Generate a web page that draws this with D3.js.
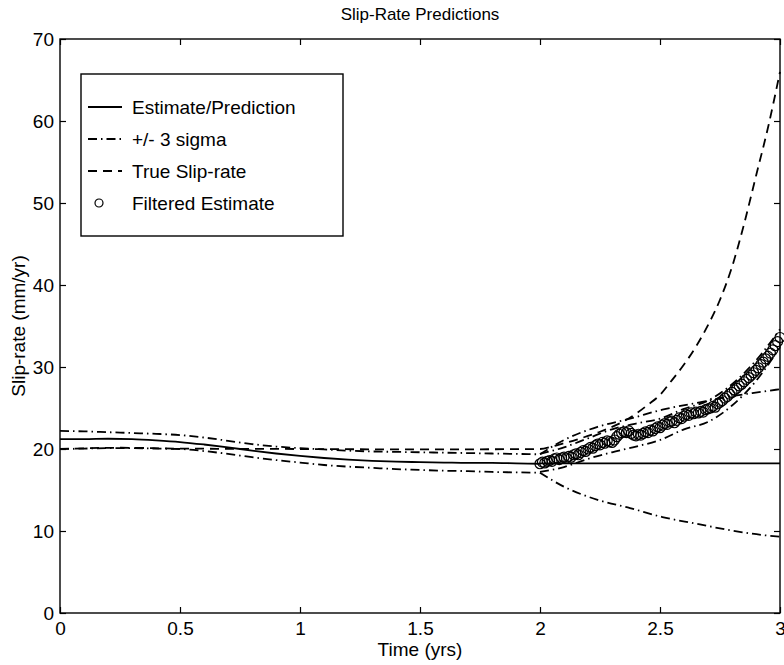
<!DOCTYPE html>
<html lang="en">
<head>
<meta charset="UTF-8">
<title>Slip-Rate Predictions</title>
<script src="https://d3js.org/d3.v7.min.js"></script>
<style>
  body { margin: 0; background: #fff; }
  text { font-family: "Liberation Sans", Arial, Helvetica, sans-serif; fill: #000; }
</style>
</head>
<body>
<svg id="chart" width="784" height="665"></svg>
<script>
// ---- data ----
// before t=2: estimate and its +/- 3 sigma band
const tEst = [0, 0.1, 0.2, 0.3, 0.4, 0.5, 0.6, 0.7, 0.8, 0.9, 1.0, 1.1, 1.2, 1.3, 1.4, 1.5, 1.6, 1.7, 1.8, 1.9, 2.0];
const estimate = [21.2, 21.2, 21.25, 21.2, 21.05, 20.85, 20.55, 20.2, 19.8, 19.45, 19.15, 18.9, 18.7, 18.55, 18.45, 18.4, 18.35, 18.3, 18.3, 18.25, 18.2];
const estUpper = [22.2, 22.15, 22.05, 21.95, 21.85, 21.7, 21.4, 21.0, 20.6, 20.3, 20.1, 19.95, 19.8, 19.7, 19.65, 19.6, 19.55, 19.5, 19.45, 19.4, 19.35];
const estLower = [20.0, 20.05, 20.1, 20.1, 20.05, 20.0, 19.75, 19.4, 19.0, 18.65, 18.35, 18.05, 17.85, 17.7, 17.55, 17.45, 17.35, 17.3, 17.2, 17.15, 17.1];

// after t=2: flat prediction and its widening band
const tPred = [2.0, 2.1, 2.24, 2.375, 2.51, 2.65, 2.79, 2.93, 3.0];
const prediction = [18.25, 18.25, 18.25, 18.25, 18.25, 18.25, 18.25, 18.25, 18.25];
const predUpper = [19.35, 21.1, 22.7, 23.7, 24.8, 25.6, 26.4, 27.0, 27.3];
const predLower = [17.1, 15.4, 13.8, 12.8, 11.7, 10.9, 10.1, 9.5, 9.3];

// true slip-rate
const tTrue = [0, 0.25, 0.5, 1.0, 1.5, 2.0, 2.05, 2.1, 2.15, 2.2, 2.25, 2.3, 2.35, 2.4, 2.45, 2.5, 2.55, 2.6, 2.65, 2.7, 2.75, 2.8, 2.85, 2.9, 2.95, 3.0];
const trueRate = [20.0, 20.15, 20.05, 20.0, 19.95, 20.0, 20.3, 20.7, 21.1, 21.6, 22.1, 22.7, 23.4, 24.3, 25.4, 26.6, 28.4, 30.3, 32.5, 35.1, 38.2, 42.2, 47.4, 53.3, 59.2, 66.0];

// filtered estimate (circles), one every 0.01 yr from 2.00 to 3.00
const filtered = [
  18.2, 18.4, 18.3, 18.5, 18.6, 18.5, 18.8, 18.9, 18.7, 18.9,
  19.0, 18.9, 19.1, 19.0, 19.3, 19.4, 19.3, 19.6, 19.8, 19.7,
  20.0, 20.2, 20.1, 20.4, 20.6, 20.5, 20.8, 20.7, 21.0, 20.9,
  20.8, 21.1, 21.5, 21.8, 22.0, 22.1, 22.0, 22.2, 21.9, 21.7,
  21.6, 21.8, 21.7, 21.9, 22.1, 22.0, 22.3, 22.2, 22.5, 22.7,
  22.6, 22.9, 23.1, 23.0, 23.3, 23.4, 23.2, 23.5, 23.8, 23.7,
  24.0, 24.2, 24.1, 24.4, 24.3, 24.5, 24.4, 24.6, 24.5, 24.8,
  24.9, 25.0, 25.2, 25.1, 25.5, 25.7, 25.9, 26.2, 26.4, 26.7,
  26.9, 27.2, 27.4, 27.7, 27.9, 28.2, 28.5, 28.7, 29.0, 29.3,
  29.6, 29.9, 30.3, 30.6, 31.0, 31.3, 31.7, 32.1, 32.6, 33.1,
  33.6
];
const tFilt = d3.range(filtered.length).map(i => 2 + i / 100);

// +/- 3 sigma band of the filtered estimate
const tBand = [2.0, 2.1, 2.2, 2.3, 2.4, 2.5, 2.6, 2.7, 2.8, 2.9, 3.0];
const filtUpper = [19.4, 20.2, 21.3, 22.4, 23.1, 23.7, 24.9, 25.9, 27.9, 30.8, 34.6];
const filtLower = [17.2, 17.8, 18.8, 19.6, 20.3, 21.1, 22.4, 23.3, 25.3, 28.3, 32.4];

const xTicks = [0, 0.5, 1, 1.5, 2, 2.5, 3];
const yTicks = [0, 10, 20, 30, 40, 50, 60, 70];

const legendItems = [
  { label: 'Estimate/Prediction', type: 'solid' },
  { label: '+/- 3 sigma', type: 'dashdot' },
  { label: 'True Slip-rate', type: 'dashed' },
  { label: 'Filtered Estimate', type: 'circle' }
];

// ---- drawing ----
const svg = d3.select('#chart');
const margin = { top: 39, right: 4, bottom: 52, left: 60 };
const W = 784, H = 665;

const x = d3.scaleLinear().domain([0, 3]).range([margin.left, W - margin.right]);
const y = d3.scaleLinear().domain([0, 70]).range([H - margin.bottom, margin.top]);

const dashes = { solid: null, dashdot: '9,4,1.5,4', dashed: '9,6' };

const line = d3.line().x(d => x(d[0])).y(d => y(d[1])).curve(d3.curveMonotoneX);
const pairs = (ts, vs) => ts.map((t, i) => [t, vs[i]]);

const series = [
  { t: tEst, v: estimate, type: 'solid' },
  { t: tPred, v: prediction, type: 'solid' },
  { t: tEst, v: estUpper, type: 'dashdot' },
  { t: tEst, v: estLower, type: 'dashdot' },
  { t: tPred, v: predUpper, type: 'dashdot' },
  { t: tPred, v: predLower, type: 'dashdot' },
  { t: tBand, v: filtUpper, type: 'dashdot' },
  { t: tBand, v: filtLower, type: 'dashdot' },
  { t: tTrue, v: trueRate, type: 'dashed' }
];

const plot = svg.append('g');

plot.selectAll('path.series')
  .data(series)
  .enter().append('path')
  .attr('class', 'series')
  .attr('fill', 'none')
  .attr('stroke', '#000')
  .attr('stroke-width', 1.8)
  .attr('stroke-dasharray', d => dashes[d.type])
  .attr('d', d => line(pairs(d.t, d.v)));

plot.selectAll('circle.filt')
  .data(pairs(tFilt, filtered))
  .enter().append('circle')
  .attr('class', 'filt')
  .attr('cx', d => x(d[0]))
  .attr('cy', d => y(d[1]))
  .attr('r', 5)
  .attr('fill', 'none')
  .attr('stroke', '#000')
  .attr('stroke-width', 1.2);

// axes box with inward ticks on all four sides
const x0 = x.range()[0], x1 = x.range()[1], y0 = y.range()[0], y1 = y.range()[1];
const tickLen = 6;

svg.append('g')
  .attr('transform', `translate(0,${y0})`)
  .call(d3.axisBottom(x).tickValues(xTicks).tickSize(-tickLen).tickPadding(9).tickFormat(d3.format('')))
  .call(g => g.select('.domain').remove())
  .call(g => g.selectAll('text').style('font-size', '19px'));

svg.append('g')
  .attr('transform', `translate(0,${y1})`)
  .call(d3.axisTop(x).tickValues(xTicks).tickSize(-tickLen).tickFormat(''))
  .call(g => g.select('.domain').remove());

svg.append('g')
  .attr('transform', `translate(${x0},0)`)
  .call(d3.axisLeft(y).tickValues(yTicks).tickSize(-tickLen).tickPadding(6))
  .call(g => g.select('.domain').remove())
  .call(g => g.selectAll('text').style('font-size', '19px'));

svg.append('g')
  .attr('transform', `translate(${x1},0)`)
  .call(d3.axisRight(y).tickValues(yTicks).tickSize(-tickLen).tickFormat(''))
  .call(g => g.select('.domain').remove());

svg.selectAll('.tick line').attr('stroke', '#000').attr('stroke-width', 1.2);

svg.append('rect')
  .attr('x', x0).attr('y', y1)
  .attr('width', x1 - x0).attr('height', y0 - y1)
  .attr('fill', 'none').attr('stroke', '#000').attr('stroke-width', 1.4);

// titles
svg.append('text')
  .attr('x', (x0 + x1) / 2).attr('y', 20)
  .attr('text-anchor', 'middle')
  .style('font-size', '17px')
  .text('Slip-Rate Predictions');

svg.append('text')
  .attr('x', (x0 + x1) / 2).attr('y', 656)
  .attr('text-anchor', 'middle')
  .style('font-size', '19px')
  .text('Time (yrs)');

svg.append('text')
  .attr('transform', `translate(25,${(y0 + y1) / 2}) rotate(-90)`)
  .attr('text-anchor', 'middle')
  .style('font-size', '19px')
  .text('Slip-rate (mm/yr)');

// legend
const legend = svg.append('g').attr('transform', 'translate(81,74)');
legend.append('rect')
  .attr('width', 262).attr('height', 162)
  .attr('fill', '#fff').attr('stroke', '#000').attr('stroke-width', 1.4);

const item = legend.selectAll('g.item')
  .data(legendItems)
  .enter().append('g')
  .attr('class', 'item')
  .attr('transform', (d, i) => `translate(0,${33 + i * 32})`);

item.filter(d => d.type !== 'circle').append('line')
  .attr('x1', 7).attr('x2', 41)
  .attr('stroke', '#000').attr('stroke-width', 1.8)
  .attr('stroke-dasharray', d => dashes[d.type]);

item.filter(d => d.type === 'circle').append('circle')
  .attr('cx', 18).attr('r', 4)
  .attr('fill', 'none').attr('stroke', '#000').attr('stroke-width', 1.2);

item.append('text')
  .attr('x', 51).attr('dy', '0.35em')
  .style('font-size', '19px')
  .text(d => d.label);
</script>
</body>
</html>
